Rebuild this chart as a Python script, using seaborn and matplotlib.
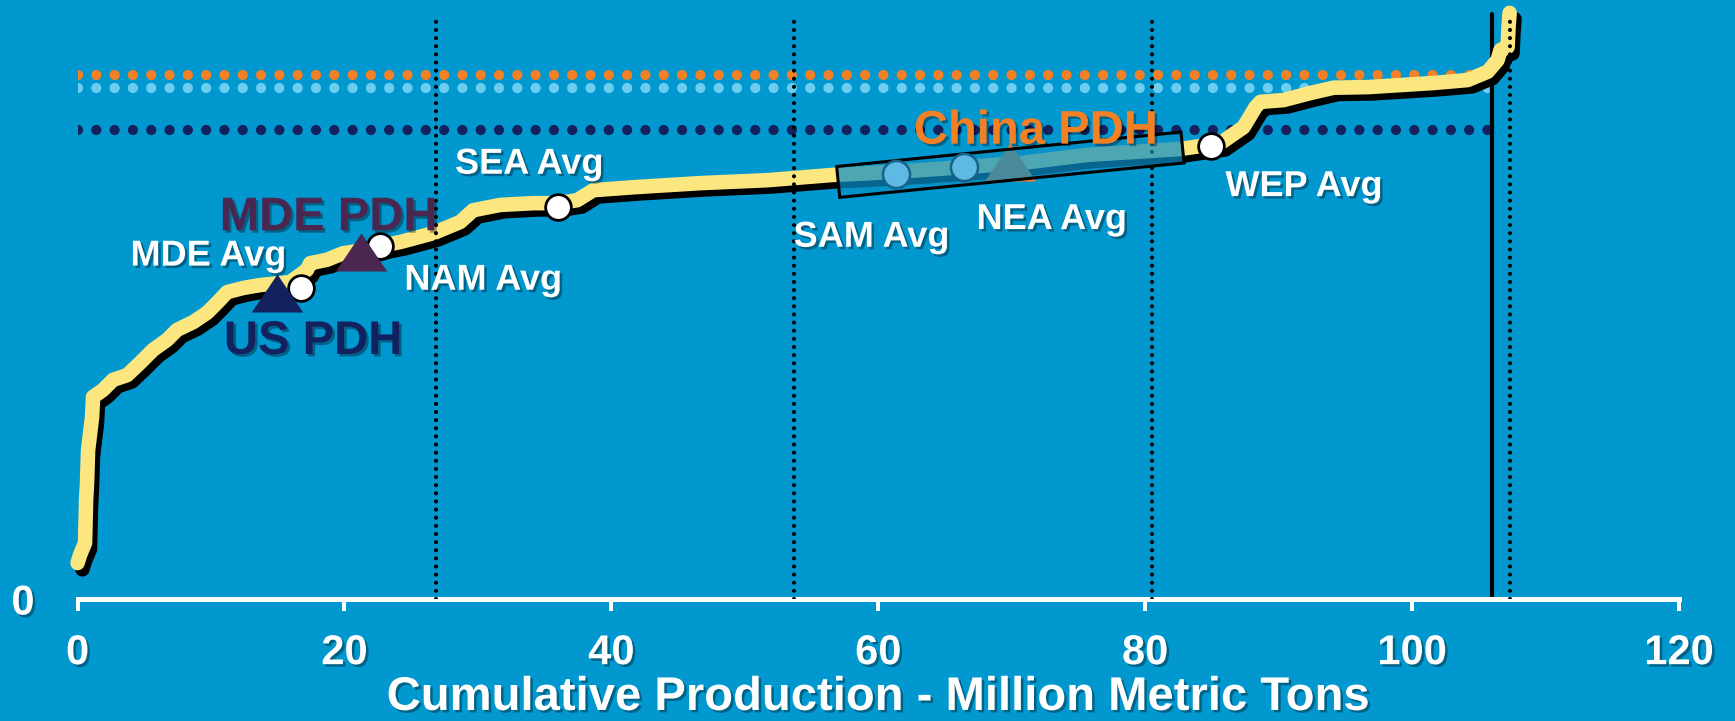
import matplotlib
matplotlib.use("Agg")
import matplotlib.pyplot as plt
import matplotlib.patheffects as pe
from matplotlib.patches import Polygon
import numpy as np
import seaborn as sns

# ---------------------------------------------------------------------------
# Industry cost curve: cumulative production (million metric tons) vs. cost
# index (arbitrary units, only the zero is labelled on the axis)
# ---------------------------------------------------------------------------
cum_prod = [0.00, 0.19, 0.56, 0.64, 0.71, 0.79, 1.09, 1.16, 1.91, 2.66, 3.71,
            4.69, 5.66, 6.71, 7.46, 8.66, 9.71, 10.46, 11.21, 12.41, 13.68,
            15.93, 17.20, 17.43, 18.70, 19.90, 21.93, 23.05, 24.18, 26.65,
            28.67, 29.65, 31.67, 34.15, 36.02, 37.44, 38.64, 41.64, 46.66,
            51.68, 56.63, 58.66, 63.15, 70.65, 75.67, 82.65, 84.15, 85.65,
            87.37, 88.27, 88.64, 90.37, 92.39, 94.12, 96.67, 101.61, 104.16,
            105.66, 106.41, 106.63, 107.16, 107.23, 107.31]
cost_idx = [6.1, 7.5, 9.5, 16.8, 19.7, 25.3, 30.9, 34.3, 35.5, 37.2, 38.0,
            40.1, 42.3, 44.0, 45.7, 47.0, 48.6, 50.3, 52.1, 52.8, 53.3,
            53.8, 55.9, 57.0, 57.6, 58.7, 59.4, 60.1, 60.6, 62.1,
            64.0, 66.0, 66.9, 67.2, 67.2, 67.7, 69.4, 69.9, 70.6,
            71.1, 72.0, 72.2, 72.8, 74.0, 75.4, 76.4, 76.9, 77.4,
            80.1, 83.5, 84.4, 84.7, 85.9, 86.8, 86.9, 87.6, 88.1,
            89.5, 91.5, 93.2, 93.7, 97.1, 99.5]

# Regional average cost points (white circles)
avg_names = ["MDE Avg", "NAM Avg", "SEA Avg", "WEP Avg"]
avg_x = [16.76, 22.68, 36.02, 84.9]
avg_y = [52.8, 59.9, 66.6, 76.9]

# Regional averages inside the China band (light blue circles)
band_avg_names = ["SAM Avg", "NEA Avg"]
band_avg_x = [61.3, 66.4]
band_avg_y = [72.2, 73.3]

# PDH plant positions (triangles)
pdh_names = ["US PDH", "MDE PDH", "China PDH"]
pdh_x = [14.95, 21.25, 69.9]
pdh_y = [51.95, 58.9, 74.2]

# China PDH range on the curve (start / end)
china_band_x = [57.0, 82.8]
china_band_y = [70.8, 76.65]

# Reference price levels (dotted horizontal lines)
price_levels = [89.0, 86.7, 79.7]
price_end = 106.5

# Quartiles of cumulative production and current demand
quartile_x = [26.83, 53.67, 80.5, 107.33]
demand_x = 106.0

x_ticks = [0, 20, 40, 60, 80, 100, 120]
x_label = "Cumulative Production - Million Metric Tons"

# ---------------------------------------------------------------------------
BG = "#0098CF"
YELLOW = "#FCE680"
ORANGE = "#F38024"
LIGHT = "#6CCDF0"
NAVY = "#14215F"
PURPLE = "#4A2751"
level_colors = [ORANGE, LIGHT, NAVY]

sns.set_style("white")
plt.rcParams["font.family"] = ["Liberation Sans", "DejaVu Sans"]
plt.rcParams["font.weight"] = "bold"

fig = plt.figure(figsize=(17.35, 7.21), dpi=100, facecolor=BG)
ax = fig.add_axes([0.0447, 0.1692, 0.923, 0.817])
ax.set_facecolor(BG)
ax.set_xlim(0, 120)
ax.set_ylim(0, 100)

text_shadow = [pe.withSimplePatchShadow(offset=(1.8, -1.8),
                                        shadow_rgbFace="black", alpha=0.35)]

# Dotted price levels
for lvl, col in zip(price_levels, level_colors):
    ax.plot([0, price_end], [lvl, lvl], color=col, lw=7.4,
            ls=(0, (0.001, 1.78)), dash_capstyle="round", zorder=1)

# Demand line
ax.plot([demand_x, demand_x], [0, 99.3], color="black", lw=3.0,
        solid_capstyle="round", zorder=1.5)

# Cost curve
sns.lineplot(x=cum_prod, y=cost_idx, ax=ax, color=YELLOW, linewidth=10.5,
             sort=False, estimator=None, zorder=2)
curve = ax.lines[-1]
curve.set_solid_capstyle("round")
curve.set_solid_joinstyle("round")
curve.set_clip_on(False)
curve.set_path_effects([pe.SimpleLineShadow(offset=(3.5, -4.5),
                                            shadow_color="black", alpha=1.0),
                        pe.Normal()])

# Quartile lines
for qx in quartile_x:
    ax.plot([qx, qx], [0, 98.5], color="black", lw=3.0, ls=(0, (0.001, 1.95)),
            dash_capstyle="round", zorder=2.5)

# Averages
ax.plot(avg_x, avg_y, ls="none", marker="o", ms=18.5, mfc="white",
        mec="black", mew=2.0, zorder=3)

# PDH triangles
tri = [(0, 0.74), (-1, -0.74), (1, -0.74)]
pdh_colors = [NAVY, PURPLE, ORANGE]
for px, py, pc in zip(pdh_x, pdh_y, pdh_colors):
    ax.plot([px], [py], ls="none", marker=tri, ms=37, mfc=pc, mec="none",
            zorder=3.2)

# China band: rectangle aligned with the curve
p0, p1 = ax.transData.transform(np.column_stack([china_band_x, china_band_y]))
d = (p1 - p0) / np.hypot(*(p1 - p0))
n = np.array([-d[1], d[0]])
half = 15.5
corners_px = np.array([p0 + n * half, p1 + n * half, p1 - n * half, p0 - n * half])
corners = ax.transData.inverted().transform(corners_px)
ax.add_patch(Polygon(corners, closed=True, facecolor="#0A8FC8", alpha=0.72,
                     edgecolor="none", zorder=3.5))
ax.add_patch(Polygon(corners, closed=True, facecolor="none",
                     edgecolor="black", lw=2.2, zorder=3.6))

ax.plot(band_avg_x, band_avg_y, ls="none", marker="o", ms=19.5, mfc="#5EBAE2",
        mec="#16628A", mew=1.8, zorder=4)

# Labels
white_labels = {
    "MDE Avg": (9.8, 56.6),
    "NAM Avg": (30.4, 52.5),
    "SEA Avg": (33.85, 72.2),
    "WEP Avg": (91.9, 68.4),
    "SAM Avg": (59.5, 59.8),
    "NEA Avg": (73.0, 62.8),
}
for name, (tx, ty) in white_labels.items():
    ax.text(tx, ty, name, color="white", fontsize=26, fontweight="bold",
            ha="center", va="baseline", zorder=5, path_effects=text_shadow)

pdh_label_pos = {
    "US PDH": ((17.65, 41.6), NAVY),
    "MDE PDH": ((18.8, 62.6), PURPLE),
    "China PDH": ((71.8, 77.3), ORANGE),
}
for name, ((tx, ty), col) in pdh_label_pos.items():
    ax.text(tx, ty, name, color=col, fontsize=34, fontweight="bold",
            ha="center", va="baseline", zorder=5, path_effects=text_shadow)

# Axes styling
for side in ["left", "top", "right"]:
    ax.spines[side].set_visible(False)
ax.spines["bottom"].set_color("white")
ax.spines["bottom"].set_linewidth(3.6)
ax.spines["bottom"].set_zorder(2.2)

ax.set_xticks(x_ticks)
ax.set_xticklabels([str(t) for t in x_ticks])
ax.set_yticks([0])
ax.set_yticklabels(["0"])
ax.tick_params(axis="x", bottom=True, colors="white", labelsize=30,
               length=8.6, width=2.9, direction="out", pad=16)
ax.tick_params(axis="y", left=True, colors="white", labelsize=30, length=0,
               pad=31)
for lbl in ax.get_xticklabels() + ax.get_yticklabels():
    lbl.set_fontweight("bold")
    lbl.set_path_effects(text_shadow)

ax.set_xlabel(x_label, color="white", fontsize=34, fontweight="bold",
              labelpad=2, path_effects=text_shadow)
ax.grid(False)

fig.savefig("out.png", dpi=100, facecolor=BG)
